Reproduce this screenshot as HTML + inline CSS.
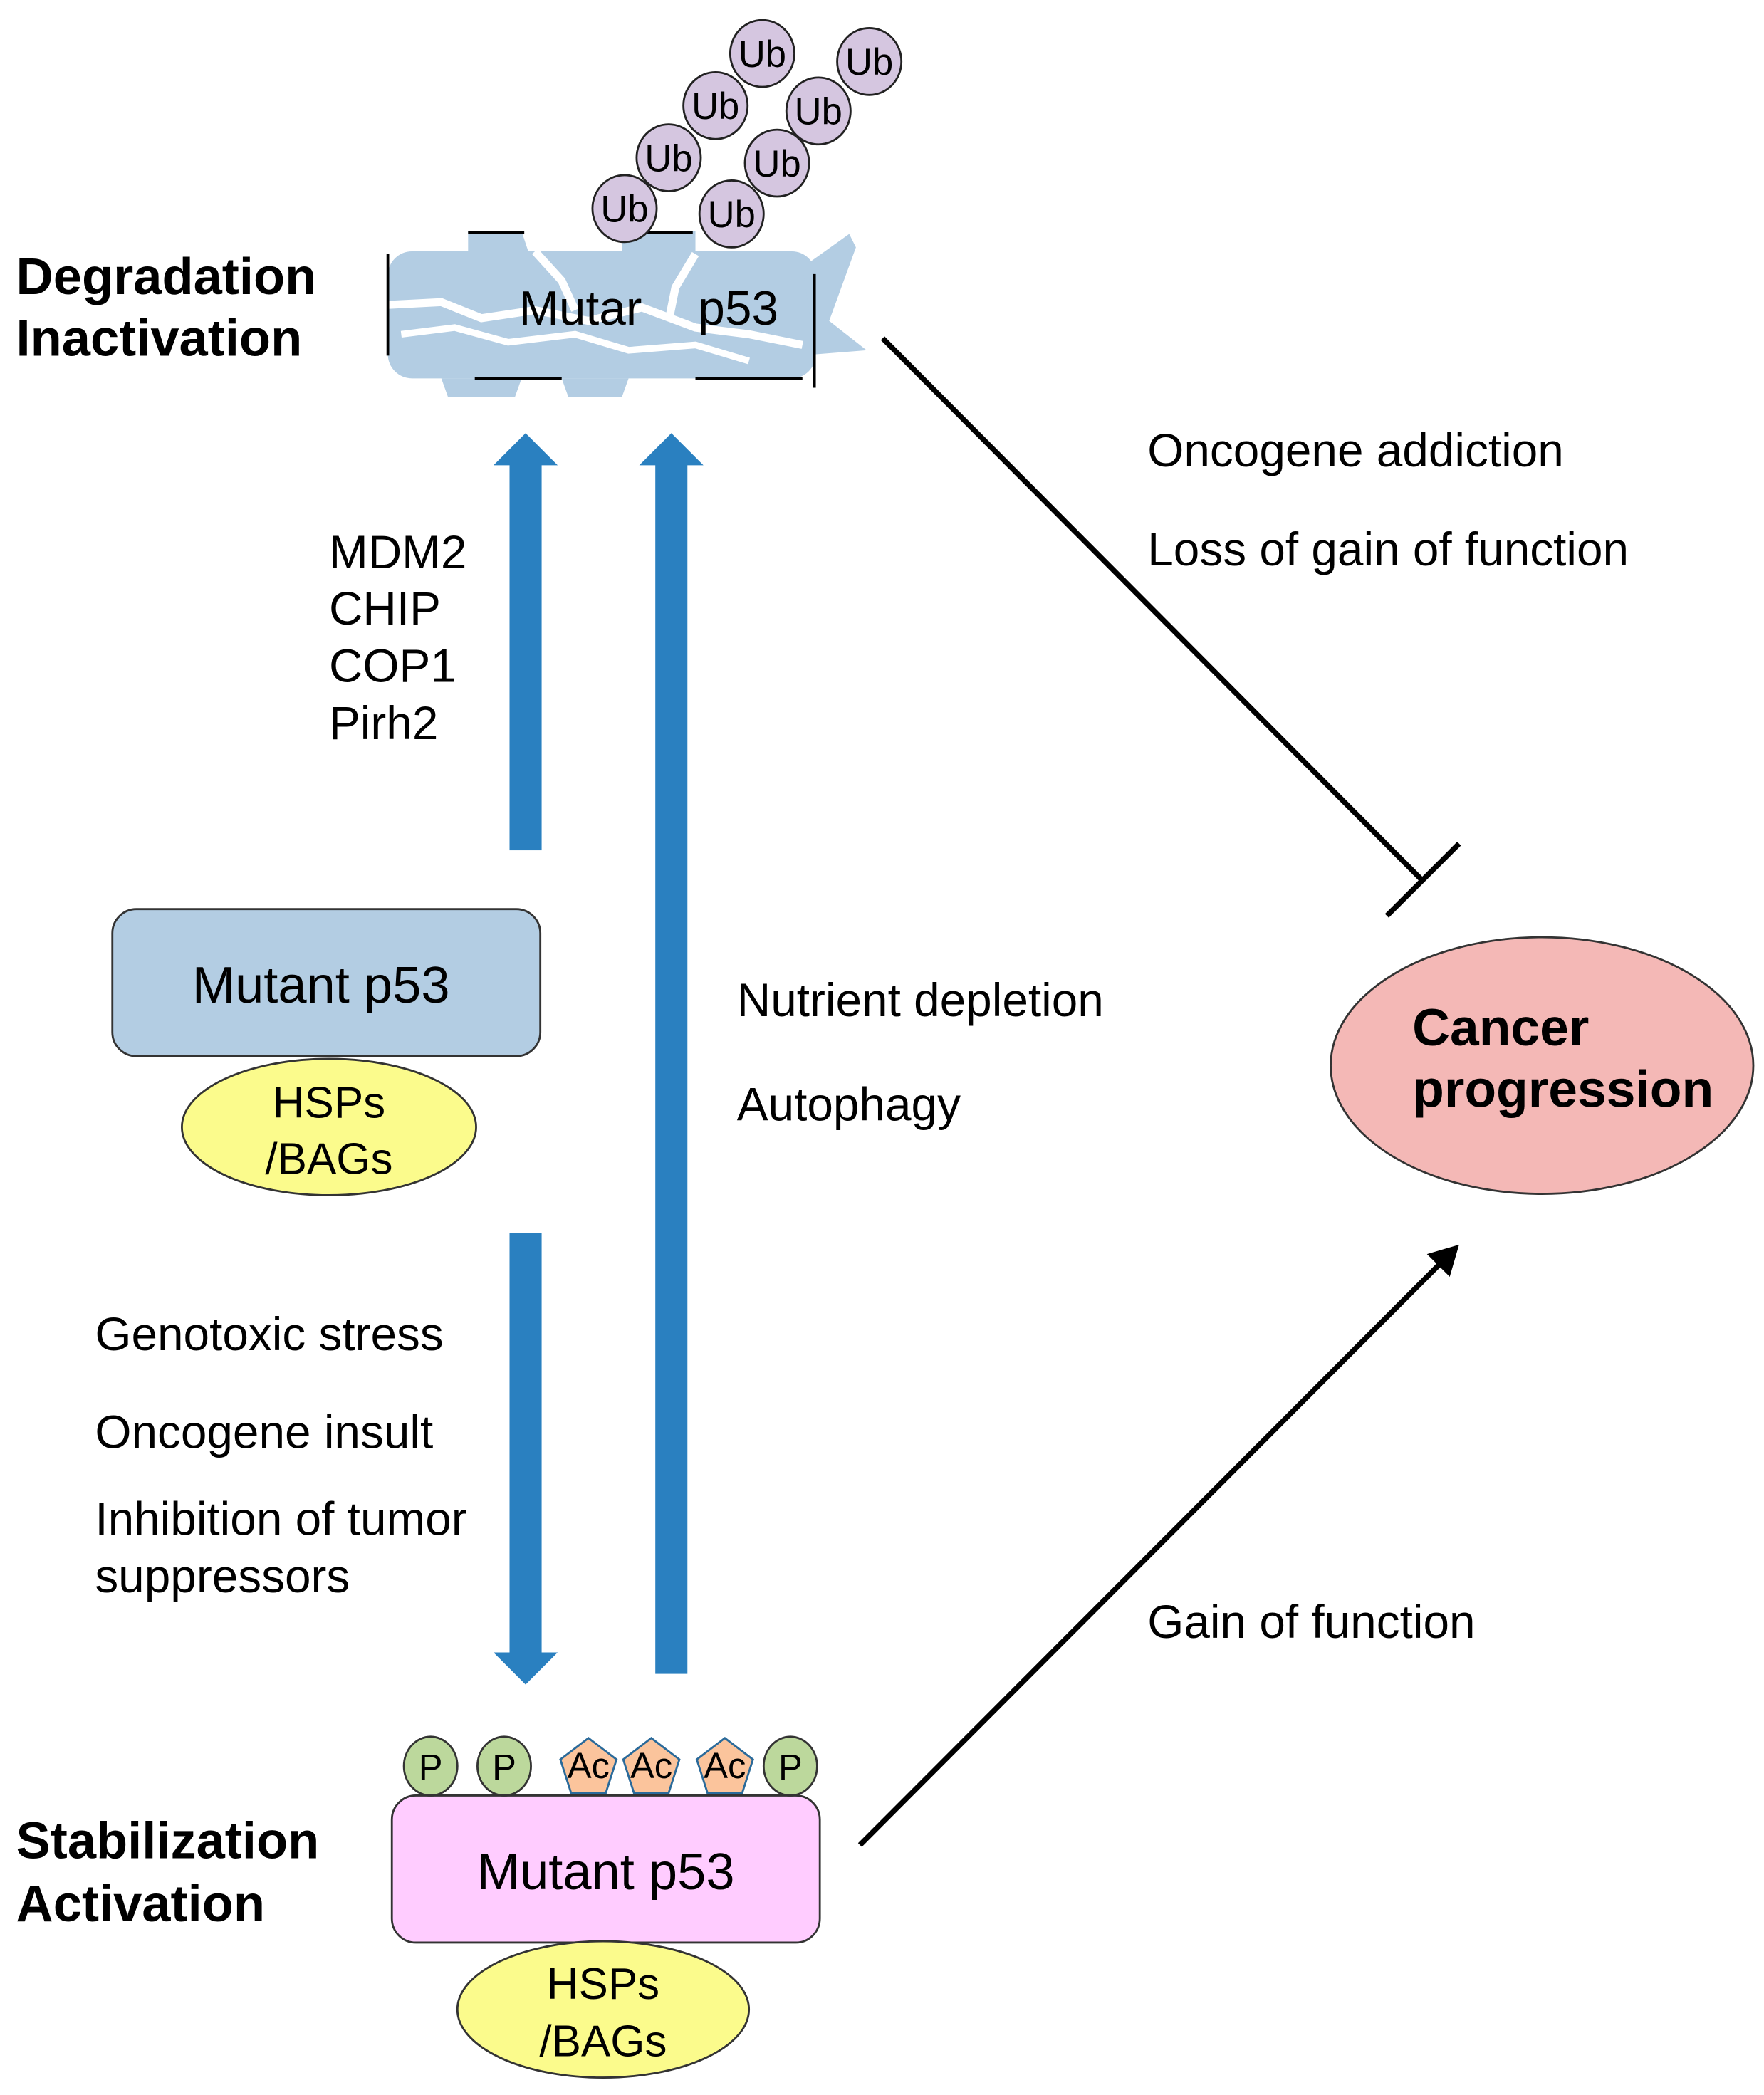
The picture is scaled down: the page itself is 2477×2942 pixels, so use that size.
<!DOCTYPE html>
<html><head><meta charset="utf-8"><style>
html,body{margin:0;padding:0;background:#fff;}
svg{display:block;}
text{font-family:"Liberation Sans",Arial,sans-serif;fill:#000;}
</style></head><body>
<svg width="2477" height="2942" viewBox="0 0 1319 1567" preserveAspectRatio="none" xmlns="http://www.w3.org/2000/svg">
<text x="12" y="220" font-size="38.5" font-weight="bold">Degradation</text>
<text x="12" y="266" font-size="38.5" font-weight="bold">Inactivation</text>
<text x="12" y="1390" font-size="38.5" font-weight="bold">Stabilization</text>
<text x="12" y="1437" font-size="38.5" font-weight="bold">Activation</text>

<g>
<rect x="290" y="188" width="320" height="95" rx="18" fill="#b3cde3"/>
<polygon points="350,173 390,173 395,188 350,188" fill="#b3cde3"/>
<polygon points="465,173 520,173 520,188 465,188" fill="#b3cde3"/>
<polygon points="600,200 635,175 640,185 620,240 648,262 610,265" fill="#b3cde3"/>
<polygon points="330,283 390,283 385,297 335,297" fill="#b3cde3"/>
<polygon points="420,283 470,283 465,297 425,297" fill="#b3cde3"/>
<polyline points="290,228 330,226 360,238 400,232 440,240 480,230 520,245 560,250 600,258" stroke="#fff" stroke-width="6" fill="none"/>
<polyline points="300,250 340,245 380,256 430,250 470,262 520,258 560,270" stroke="#fff" stroke-width="5" fill="none"/>
<polyline points="400,188 420,210 430,232" stroke="#fff" stroke-width="6" fill="none"/>
<polyline points="520,190 505,215 500,240" stroke="#fff" stroke-width="6" fill="none"/>
<line x1="350" y1="174" x2="392" y2="174" stroke="#000" stroke-width="2"/>
<line x1="468" y1="174" x2="518" y2="174" stroke="#000" stroke-width="2"/>
<line x1="290" y1="190" x2="290" y2="266" stroke="#000" stroke-width="2"/>
<line x1="355" y1="283" x2="420" y2="283" stroke="#000" stroke-width="2"/>
<line x1="520" y1="283" x2="600" y2="283" stroke="#000" stroke-width="2"/>
<line x1="609" y1="205" x2="609" y2="290" stroke="#000" stroke-width="2"/>
<text x="388" y="243" font-size="36" fill="#333">Mutar</text>
<text x="522" y="243" font-size="36" fill="#333">p53</text>
</g>

<g font-size="28" text-anchor="middle">
<g><ellipse cx="570" cy="40" rx="24" ry="25" fill="#d5c6e0" stroke="#222" stroke-width="1.5"/><text x="570" y="50">Ub</text></g>
<g><ellipse cx="650" cy="46" rx="24" ry="25" fill="#d5c6e0" stroke="#222" stroke-width="1.5"/><text x="650" y="56">Ub</text></g>
<g><ellipse cx="535" cy="79" rx="24" ry="25" fill="#d5c6e0" stroke="#222" stroke-width="1.5"/><text x="535" y="89">Ub</text></g>
<g><ellipse cx="612" cy="83" rx="24" ry="25" fill="#d5c6e0" stroke="#222" stroke-width="1.5"/><text x="612" y="93">Ub</text></g>
<g><ellipse cx="500" cy="118" rx="24" ry="25" fill="#d5c6e0" stroke="#222" stroke-width="1.5"/><text x="500" y="128">Ub</text></g>
<g><ellipse cx="581" cy="122" rx="24" ry="25" fill="#d5c6e0" stroke="#222" stroke-width="1.5"/><text x="581" y="132">Ub</text></g>
<g><ellipse cx="467" cy="156" rx="24" ry="25" fill="#d5c6e0" stroke="#222" stroke-width="1.5"/><text x="467" y="166">Ub</text></g>
<g><ellipse cx="547" cy="160" rx="24" ry="25" fill="#d5c6e0" stroke="#222" stroke-width="1.5"/><text x="547" y="170">Ub</text></g>
</g>

<g fill="#2a80c0">
<rect x="381" y="346" width="24" height="290"/>
<polygon points="369,348 417,348 393,324"/>
<rect x="490" y="346" width="24" height="906"/>
<polygon points="478,348 526,348 502,324"/>
<rect x="381" y="922" width="24" height="316"/>
<polygon points="369,1236 417,1236 393,1260"/>
</g>

<g font-size="35">
<text x="246" y="425">MDM2</text>
<text x="246" y="467">CHIP</text>
<text x="246" y="510">COP1</text>
<text x="246" y="553">Pirh2</text>
<text x="551" y="760">Nutrient depletion</text>
<text x="551" y="838">Autophagy</text>
<text x="71" y="1010">Genotoxic stress</text>
<text x="71" y="1083">Oncogene insult</text>
<text x="71" y="1148">Inhibition of tumor</text>
<text x="71" y="1191">suppressors</text>
<text x="858" y="349">Oncogene addiction</text>
<text x="858" y="423">Loss of gain of function</text>
<text x="858" y="1225">Gain of function</text>
</g>

<rect x="84" y="680" width="320" height="110" rx="18" fill="#b3cde3" stroke="#333" stroke-width="1.5"/>
<text x="240" y="750" font-size="38.5" text-anchor="middle">Mutant p53</text>
<ellipse cx="246" cy="843" rx="110" ry="51" fill="#fbfb8c" stroke="#333" stroke-width="1.5"/>
<text x="246" y="836" font-size="33" text-anchor="middle">HSPs</text>
<text x="246" y="878" font-size="33" text-anchor="middle">/BAGs</text>

<line x1="660" y1="253" x2="1063" y2="658" stroke="#000" stroke-width="4"/>
<line x1="1037" y1="685" x2="1091" y2="631" stroke="#000" stroke-width="4"/>

<ellipse cx="1153" cy="797" rx="158" ry="96" fill="#f4b8b6" stroke="#333" stroke-width="1.5"/>
<text x="1056" y="782" font-size="39" font-weight="bold">Cancer</text>
<text x="1056" y="828" font-size="39" font-weight="bold">progression</text>

<line x1="643" y1="1380" x2="1080" y2="942" stroke="#000" stroke-width="4"/>
<polygon points="1091,931 1084,955 1067,938" fill="#000"/>

<rect x="293" y="1343" width="320" height="110" rx="18" fill="#ffccff" stroke="#333" stroke-width="1.5"/>
<text x="453" y="1413" font-size="38.5" text-anchor="middle">Mutant p53</text>
<ellipse cx="451" cy="1503" rx="109" ry="51" fill="#fbfb8c" stroke="#333" stroke-width="1.5"/>
<text x="451" y="1495" font-size="33" text-anchor="middle">HSPs</text>
<text x="451" y="1538" font-size="33" text-anchor="middle">/BAGs</text>

<g font-size="27" text-anchor="middle">
<ellipse cx="322" cy="1321" rx="20" ry="22" fill="#bcd89c" stroke="#333" stroke-width="1.5"/><text x="322" y="1331">P</text>
<ellipse cx="377" cy="1321" rx="20" ry="22" fill="#bcd89c" stroke="#333" stroke-width="1.5"/><text x="377" y="1331">P</text>
<ellipse cx="591" cy="1321" rx="20" ry="22" fill="#bcd89c" stroke="#333" stroke-width="1.5"/><text x="591" y="1331">P</text>
<polygon points="440,1300 461,1316 453,1341 427,1341 419,1316" fill="#fbc49c" stroke="#2a6a9a" stroke-width="1.5"/><text x="440" y="1330">Ac</text>
<polygon points="487,1300 508,1316 500,1341 474,1341 466,1316" fill="#fbc49c" stroke="#2a6a9a" stroke-width="1.5"/><text x="487" y="1330">Ac</text>
<polygon points="542,1300 563,1316 555,1341 529,1341 521,1316" fill="#fbc49c" stroke="#2a6a9a" stroke-width="1.5"/><text x="542" y="1330">Ac</text>
</g>
</svg>
</body></html>
